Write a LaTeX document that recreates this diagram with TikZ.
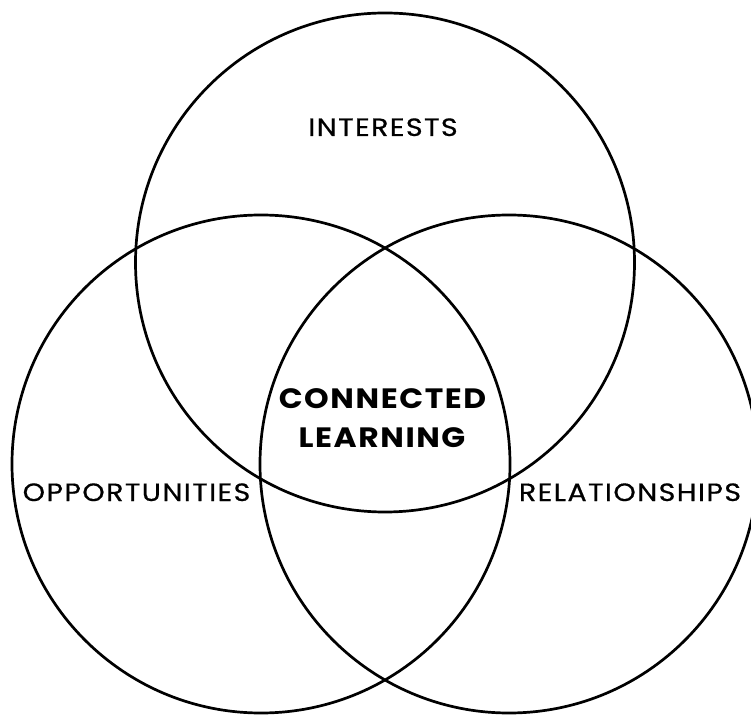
\documentclass[tikz,border=0pt]{standalone}
\usepackage{fontspec}
\setmainfont{Poppins}
\newfontfamily\lblfont{Poppins}[LetterSpace=5,FakeBold=0.6]
\newfontfamily\boldfont{Poppins}[LetterSpace=5,BoldFont={Poppins Bold}]
\begin{document}
\begin{tikzpicture}[x=1pt,y=1pt,
  ring/.style={line width=2.7pt,draw=black},
  lbl/.style={font=\fontsize{25}{29}\lblfont,inner sep=0pt,anchor=base},
  bold/.style={font=\fontsize{28}{34}\boldfont\bfseries,inner sep=0pt,anchor=base}]
\useasboundingbox (0,0) rectangle (751,715);
\clip (0,0) rectangle (751,715);
\draw[ring] (385,452.5) circle (249.5);
\draw[ring] (261,251) circle (249);
\draw[ring] (509,251) circle (249);
\node[lbl] (interests) at (383,579) {\scalebox{1.14}[1]{INTERESTS}};
\node[lbl] (opp) at (136.5,214) {\scalebox{1.14}[1]{OPPORTUNITIES}};
\node[lbl] (rel) at (630,214) {\scalebox{1.14}[1]{RELATIONSHIPS}};
\node[bold] (conn) at (382.5,306) {\scalebox{1.12}[1]{CONNECTED}};
\node[bold] (learn) at (382,268) {\scalebox{1.12}[1]{LEARNING}};
\end{tikzpicture}
\end{document}
